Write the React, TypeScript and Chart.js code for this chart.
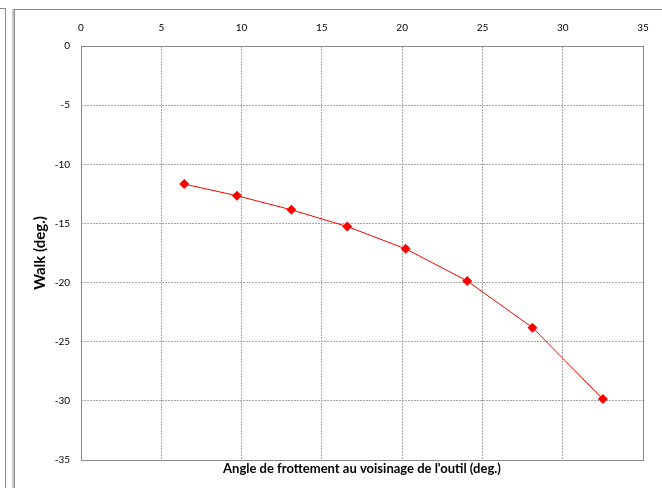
import React, { useEffect, useRef } from "react";
import { Chart, registerables } from "chart.js";

Chart.register(...registerables);

const frictionAngle = [6.43, 9.71, 13.1, 16.58, 20.22, 24.05, 28.12, 32.5];
const walk = [-11.67, -12.66, -13.85, -15.26, -17.15, -19.86, -23.81, -29.85];
const xTicks = [0, 5, 10, 15, 20, 25, 30, 35];
const yTicks = [0, -5, -10, -15, -20, -25, -30, -35];
const xTitle = "Angle de frottement au voisinage de l'outil (deg.)";
const yTitle = "Walk (deg.)";

const FONT = "Lato, 'Open Sans', sans-serif";

const plotBorder = {
  id: "plotBorder",
  afterDatasetsDraw(chart: any) {
    const { ctx, chartArea } = chart;
    ctx.save();
    ctx.strokeStyle = "#8a8a8a";
    ctx.lineWidth = 1;
    ctx.setLineDash([]);
    ctx.strokeRect(
      Math.round(chartArea.left) + 0.5,
      Math.round(chartArea.top) + 0.5,
      Math.round(chartArea.right - chartArea.left),
      Math.round(chartArea.bottom - chartArea.top)
    );
    ctx.restore();
  },
};

export default function App() {
  const ref = useRef<HTMLCanvasElement>(null);
  useEffect(() => {
    document.body.style.margin = "0";
    const chart = new Chart(ref.current!, {
      type: "scatter",
      data: {
        datasets: [
          {
            data: frictionAngle.map((x, i) => ({ x, y: walk[i] })),
            showLine: true,
            borderColor: "#ff0000",
            backgroundColor: "#ff0000",
            borderWidth: 1,
            pointStyle: "rectRot",
            pointRadius: 5,
            pointHoverRadius: 5,
            pointBorderWidth: 0,
          },
        ],
      },
      options: {
        animation: false,
        responsive: false,
        layout: { padding: { left: 0, right: 19, top: 0, bottom: 0 } },
        plugins: { legend: { display: false }, tooltip: { enabled: false } },
        scales: {
          x: {
            type: "linear",
            position: "top",
            min: 0,
            max: 35,
            afterBuildTicks: (s: any) => {
              s.ticks = xTicks.map((v) => ({ value: v }));
            },
            afterFit: (s: any) => {
              s.height = 46;
            },
            ticks: {
              padding: 12,
              color: "#000",
              font: { family: FONT, size: 10 },
            },
            grid: {
              color: "#a8a8a8",
              drawTicks: false,
              lineWidth: 1,
            },
            border: { display: false, dash: [2, 1] },
          },
          x2: {
            type: "linear",
            position: "bottom",
            min: 0,
            max: 35,
            afterFit: (s: any) => {
              s.height = 28;
            },
            ticks: { display: false },
            grid: { display: false, drawTicks: false },
            border: { display: false },
            title: {
              display: true,
              text: xTitle,
              color: "#000",
              font: { family: FONT, size: 13, weight: "bold" },
              padding: { top: 0, bottom: 11 },
            },
          },
          y: {
            type: "linear",
            position: "left",
            min: -35,
            max: 0,
            afterBuildTicks: (s: any) => {
              s.ticks = yTicks.map((v) => ({ value: v }));
            },
            afterFit: (s: any) => {
              s.width = 81;
            },
            ticks: {
              padding: 11,
              color: "#000",
              font: { family: FONT, size: 10 },
            },
            grid: {
              color: "#a8a8a8",
              drawTicks: false,
              lineWidth: 1,
            },
            border: { display: false, dash: [2, 1] },
            title: {
              display: true,
              text: yTitle,
              color: "#000",
              font: { family: FONT, size: 15, weight: "bold" },
              padding: { top: 31, bottom: 0 },
            },
          },
        },
      } as any,
      plugins: [plotBorder],
    });
    return () => chart.destroy();
  }, []);

  return (
    <div style={{ position: "absolute", left: 0, top: 0, width: 662, height: 488, background: "#fff" }}>
      <div style={{ position: "absolute", left: 0, top: 8, width: 6, height: 1, background: "#8a8a8a" }} />
      <div style={{ position: "absolute", left: 5, top: 8, width: 1, height: 480, background: "#8a8a8a" }} />
      <div style={{ position: "absolute", left: 12, top: 9, width: 2, height: 479, background: "#c8c8c8" }} />
      <div style={{ position: "absolute", left: 14, top: 9, width: 1, height: 479, background: "#8a8a8a" }} />
      <div style={{ position: "absolute", left: 14, top: 9, width: 648, height: 1, background: "#8a8a8a" }} />
      <canvas ref={ref} width={662} height={488} style={{ position: "absolute", left: 0, top: 0 }} />
    </div>
  );
}
